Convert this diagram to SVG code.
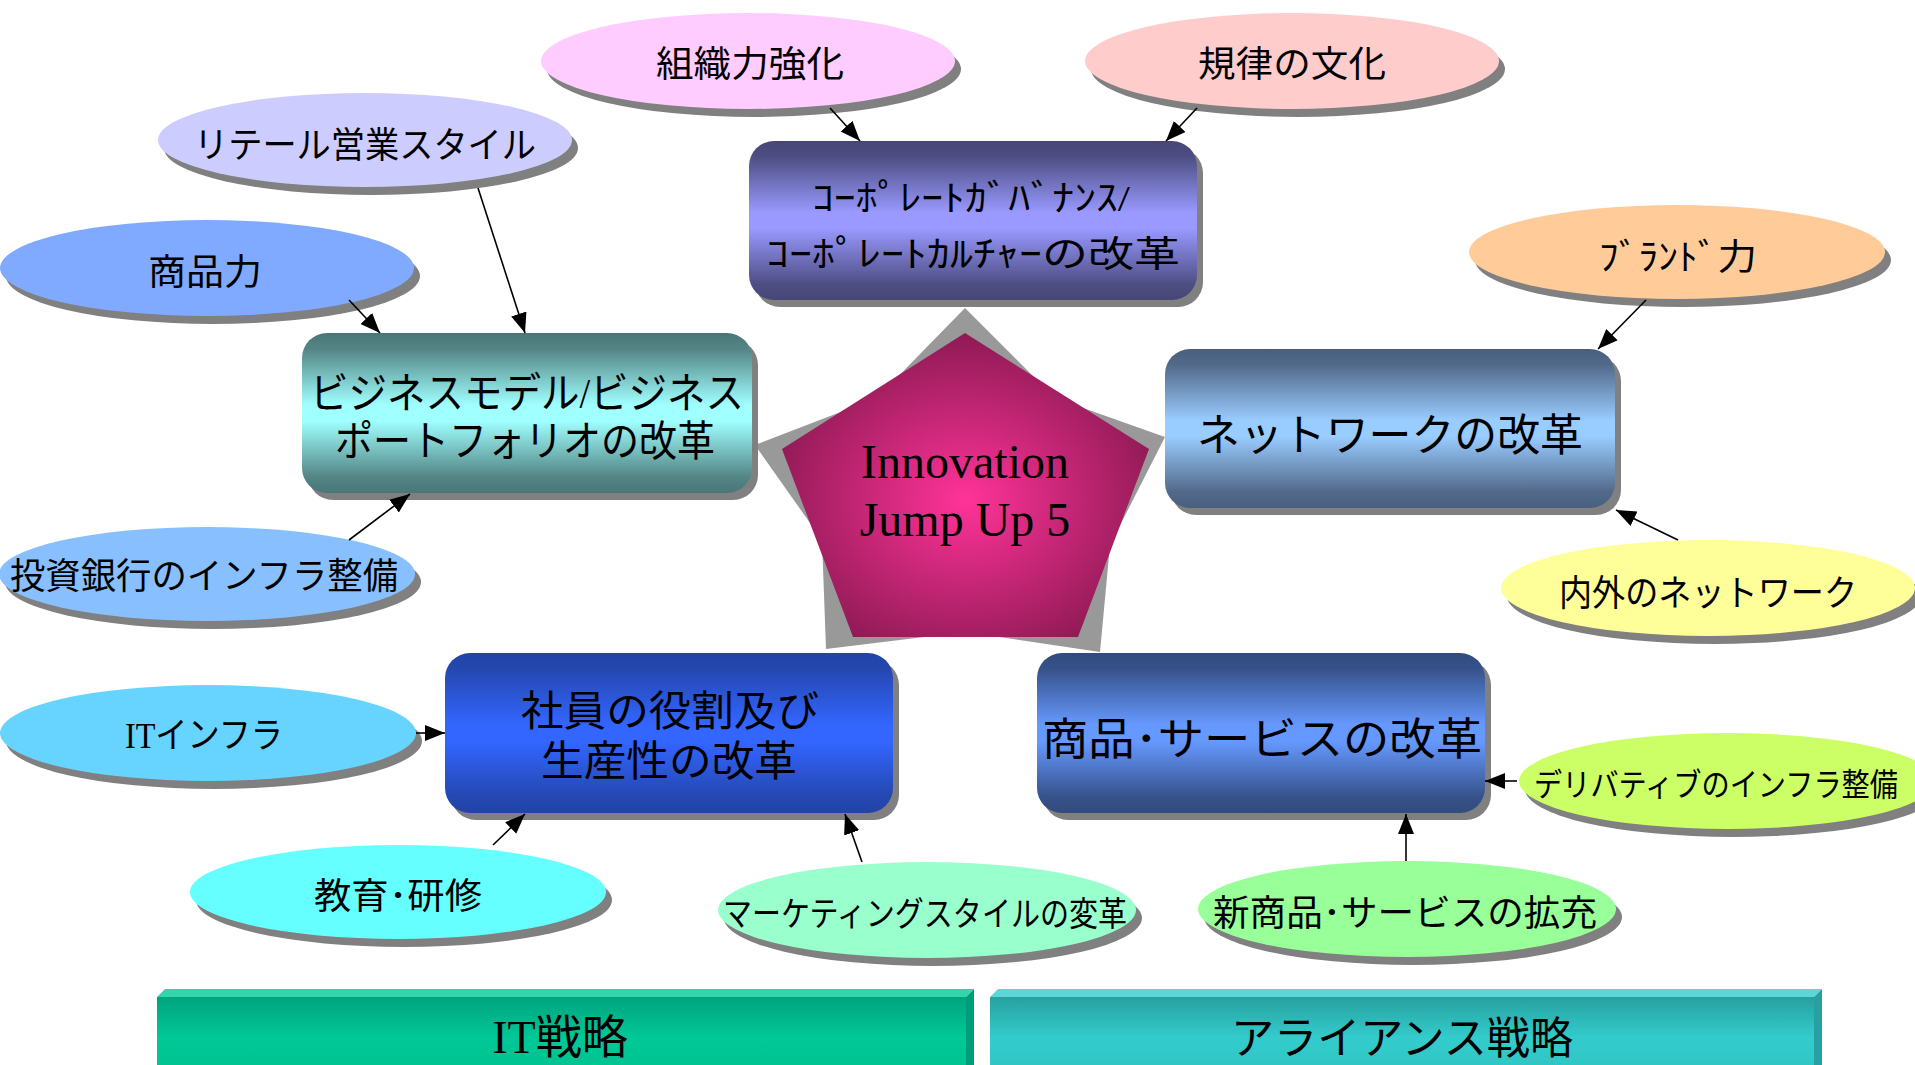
<svg xmlns="http://www.w3.org/2000/svg" width="1915" height="1065" viewBox="0 0 1915 1065">
<style>
.sh{fill:#808080}
.t{font-family:"Liberation Serif","Noto Sans CJK JP",serif;fill:#000;text-anchor:middle}
.e{font-size:36px}
.conn line{stroke:#000;stroke-width:1.6;marker-end:url(#ah)}
</style>
<defs>
<marker id="ah" markerUnits="userSpaceOnUse" markerWidth="22" markerHeight="18" refX="20" refY="8" orient="auto"><path d="M0,0 L20,8 L0,16 z" fill="#000"/></marker>
<linearGradient id="gCorp" x1="0" y1="0" x2="0" y2="1"><stop offset="0" stop-color="#464676"/><stop offset="0.1" stop-color="#4E4E84"/><stop offset="0.45" stop-color="#9999FF"/><stop offset="0.55" stop-color="#9999FF"/><stop offset="0.9" stop-color="#4E4E84"/><stop offset="1" stop-color="#464676"/></linearGradient>
<linearGradient id="gBiz" x1="0" y1="0" x2="0" y2="1"><stop offset="0" stop-color="#4A7676"/><stop offset="0.1" stop-color="#548585"/><stop offset="0.45" stop-color="#A0FFFF"/><stop offset="0.55" stop-color="#A0FFFF"/><stop offset="0.9" stop-color="#548585"/><stop offset="1" stop-color="#4A7676"/></linearGradient>
<linearGradient id="gNet" x1="0" y1="0" x2="0" y2="1"><stop offset="0" stop-color="#48607E"/><stop offset="0.1" stop-color="#52698A"/><stop offset="0.45" stop-color="#99CCFF"/><stop offset="0.55" stop-color="#99CCFF"/><stop offset="0.9" stop-color="#52698A"/><stop offset="1" stop-color="#48607E"/></linearGradient>
<linearGradient id="gEmp" x1="0" y1="0" x2="0" y2="1"><stop offset="0" stop-color="#2244A8"/><stop offset="0.1" stop-color="#2447B0"/><stop offset="0.45" stop-color="#3366FF"/><stop offset="0.55" stop-color="#3366FF"/><stop offset="0.9" stop-color="#2447B0"/><stop offset="1" stop-color="#2244A8"/></linearGradient>
<linearGradient id="gPrd" x1="0" y1="0" x2="0" y2="1"><stop offset="0" stop-color="#324B7E"/><stop offset="0.1" stop-color="#36528A"/><stop offset="0.45" stop-color="#6699FF"/><stop offset="0.55" stop-color="#6699FF"/><stop offset="0.9" stop-color="#36528A"/><stop offset="1" stop-color="#324B7E"/></linearGradient>
<radialGradient id="gPent" cx="0.5" cy="0.55" r="0.55"><stop offset="0" stop-color="#FF3399"/><stop offset="1" stop-color="#8E1A54"/></radialGradient>
<linearGradient id="gIT" x1="0" y1="0" x2="0" y2="1"><stop offset="0" stop-color="#00A47E"/><stop offset="0.6" stop-color="#00C896"/><stop offset="1" stop-color="#00C492"/></linearGradient>
<linearGradient id="gAl" x1="0" y1="0" x2="0" y2="1"><stop offset="0" stop-color="#27A0A0"/><stop offset="0.6" stop-color="#33CCCC"/><stop offset="1" stop-color="#31C6C6"/></linearGradient>
</defs>

<g id="bar-it">
<polygon points="157,997 165,989 974,989 966,997" fill="#33D6AA"/>
<polygon points="966,997 974,989 974,1065 966,1065" fill="#009E78"/>
<rect x="157" y="997" width="809" height="68" fill="url(#gIT)"/>
<text class="t" x="560" y="1053" font-size="46">IT戦略</text>
</g>
<g id="bar-alliance">
<polygon points="990,997 998,989 1822,989 1814,997" fill="#5CD6D6"/>
<polygon points="1814,997 1822,989 1822,1065 1814,1065" fill="#26A0A0"/>
<rect x="990" y="997" width="824" height="68" fill="url(#gAl)"/>
<text class="t" x="1402" y="1054" font-size="44" textLength="342" lengthAdjust="spacingAndGlyphs">アライアンス戦略</text>
</g>

<g id="center">
<polygon points="965,308 877,398 755,445 822,540 826,649 965,632 1100,652 1110,545 1165,437 1055,398" fill="#999999"/>
<polygon points="965,333 1149,449 1078,637 853,637 782,449" fill="url(#gPent)"/>
<text class="t" x="965" y="478" font-size="48">Innovation</text>
<text class="t" x="965" y="536" font-size="48">Jump Up 5</text>
</g>

<g id="box-corp">
<rect class="sh" x="755" y="148" width="448" height="159" rx="25"/>
<rect x="749" y="141" width="448" height="159" rx="25" fill="url(#gCorp)"/>
<text class="t" x="971" y="211" font-size="36" textLength="318" lengthAdjust="spacingAndGlyphs">ｺｰﾎﾟﾚｰﾄｶﾞﾊﾞﾅﾝｽ/</text>
<text class="t" x="973" y="267" font-size="36" textLength="414" lengthAdjust="spacingAndGlyphs">ｺｰﾎﾟﾚｰﾄｶﾙﾁｬｰの改革</text>
</g>
<g id="box-business">
<rect class="sh" x="308" y="340" width="450" height="160" rx="25"/>
<rect x="302" y="333" width="450" height="160" rx="25" fill="url(#gBiz)"/>
<text class="t" x="527" y="408" font-size="42" textLength="434" lengthAdjust="spacingAndGlyphs">ビジネスモデル/ビジネス</text>
<text class="t" x="525" y="456" font-size="42" textLength="380" lengthAdjust="spacingAndGlyphs">ポートフォリオの改革</text>
</g>
<g id="box-network">
<rect class="sh" x="1171" y="356" width="450" height="159" rx="25"/>
<rect x="1165" y="349" width="450" height="159" rx="25" fill="url(#gNet)"/>
<text class="t" x="1390" y="451" font-size="44" textLength="386" lengthAdjust="spacingAndGlyphs">ネットワークの改革</text>
</g>
<g id="box-employee">
<rect class="sh" x="451" y="660" width="448" height="160" rx="25"/>
<rect x="445" y="653" width="448" height="160" rx="25" fill="url(#gEmp)"/>
<text class="t" x="670" y="726" font-size="42" textLength="298" lengthAdjust="spacingAndGlyphs">社員の役割及び</text>
<text class="t" x="669" y="776" font-size="42" textLength="256" lengthAdjust="spacingAndGlyphs">生産性の改革</text>
</g>
<g id="box-product">
<rect class="sh" x="1043" y="660" width="448" height="160" rx="25"/>
<rect x="1037" y="653" width="448" height="160" rx="25" fill="url(#gPrd)"/>
<text class="t" x="1262" y="755" font-size="44" textLength="440" lengthAdjust="spacingAndGlyphs">商品･サービスの改革</text>
</g>

<g id="e-soshiki">
<ellipse class="sh" cx="754" cy="69" rx="207" ry="48"/>
<ellipse cx="748" cy="61" rx="207" ry="48" fill="#FFCCFF"/>
<text class="t e" x="750" y="77" textLength="188" lengthAdjust="spacingAndGlyphs">組織力強化</text>
</g>
<g id="e-kiritsu">
<ellipse class="sh" cx="1298" cy="69" rx="207" ry="48"/>
<ellipse cx="1292" cy="61" rx="207" ry="48" fill="#FFCCCC"/>
<text class="t e" x="1292" y="77" textLength="188" lengthAdjust="spacingAndGlyphs">規律の文化</text>
</g>
<g id="e-retail">
<ellipse class="sh" cx="371" cy="148" rx="207" ry="47"/>
<ellipse cx="365" cy="140" rx="207" ry="47" fill="#CCCCFF"/>
<text class="t e" x="365" y="158" textLength="342" lengthAdjust="spacingAndGlyphs">リテール営業スタイル</text>
</g>
<g id="e-shohinryoku">
<ellipse class="sh" cx="213" cy="276" rx="207" ry="48"/>
<ellipse cx="207" cy="268" rx="207" ry="48" fill="#80AAFF"/>
<text class="t e" x="205" y="285" textLength="114" lengthAdjust="spacingAndGlyphs">商品力</text>
</g>
<g id="e-brand">
<ellipse class="sh" cx="1683" cy="260" rx="208" ry="47"/>
<ellipse cx="1677" cy="252" rx="208" ry="47" fill="#FFCC99"/>
<text class="t e" x="1678" y="270" textLength="158" lengthAdjust="spacingAndGlyphs">ﾌﾞﾗﾝﾄﾞ力</text>
</g>
<g id="e-toshi">
<ellipse class="sh" cx="213" cy="582" rx="208" ry="47"/>
<ellipse cx="207" cy="574" rx="208" ry="47" fill="#88C0FF"/>
<text class="t e" x="204" y="589" textLength="388" lengthAdjust="spacingAndGlyphs">投資銀行のインフラ整備</text>
</g>
<g id="e-naigai">
<ellipse class="sh" cx="1714" cy="596" rx="207" ry="48"/>
<ellipse cx="1708" cy="588" rx="207" ry="48" fill="#FFFF99"/>
<text class="t e" x="1708" y="606" textLength="298" lengthAdjust="spacingAndGlyphs">内外のネットワーク</text>
</g>
<g id="e-itinfra">
<ellipse class="sh" cx="214" cy="741" rx="208" ry="48"/>
<ellipse cx="208" cy="733" rx="208" ry="48" fill="#66D4FF"/>
<text class="t e" x="204" y="748" textLength="158" lengthAdjust="spacingAndGlyphs">ITインフラ</text>
</g>
<g id="e-deriv">
<ellipse class="sh" cx="1733" cy="789" rx="208" ry="48"/>
<ellipse cx="1727" cy="781" rx="208" ry="48" fill="#CCFF66"/>
<text class="t" x="1716" y="796" font-size="32" textLength="364" lengthAdjust="spacingAndGlyphs">デリバティブのインフラ整備</text>
</g>
<g id="e-kyoiku">
<ellipse class="sh" cx="404" cy="900" rx="208" ry="47"/>
<ellipse cx="398" cy="892" rx="208" ry="47" fill="#66FFFF"/>
<text class="t e" x="398" y="909" textLength="168" lengthAdjust="spacingAndGlyphs">教育･研修</text>
</g>
<g id="e-marketing">
<ellipse class="sh" cx="933" cy="918" rx="209" ry="48"/>
<ellipse cx="927" cy="910" rx="209" ry="48" fill="#99FFCC"/>
<text class="t" x="925" y="926" font-size="34" textLength="404" lengthAdjust="spacingAndGlyphs">マーケティングスタイルの変革</text>
</g>
<g id="e-shinshohin">
<ellipse class="sh" cx="1413" cy="917" rx="209" ry="48"/>
<ellipse cx="1407" cy="909" rx="209" ry="48" fill="#99FF99"/>
<text class="t e" x="1405" y="926" textLength="384" lengthAdjust="spacingAndGlyphs">新商品･サービスの拡充</text>
</g>

<g id="connectors" class="conn">
<line x1="830" y1="108" x2="860" y2="141"/>
<line x1="1197" y1="108" x2="1166" y2="141"/>
<line x1="478" y1="188" x2="525" y2="333"/>
<line x1="349" y1="300" x2="380" y2="333"/>
<line x1="349" y1="540" x2="410" y2="494"/>
<line x1="1646" y1="300" x2="1598" y2="349"/>
<line x1="1678" y1="540" x2="1616" y2="510"/>
<line x1="416" y1="733" x2="445" y2="733"/>
<line x1="493" y1="845" x2="525" y2="814"/>
<line x1="862" y1="862" x2="845" y2="814"/>
<line x1="1406" y1="861" x2="1406" y2="814"/>
<line x1="1517" y1="781" x2="1485" y2="781"/>
</g>
</svg>
